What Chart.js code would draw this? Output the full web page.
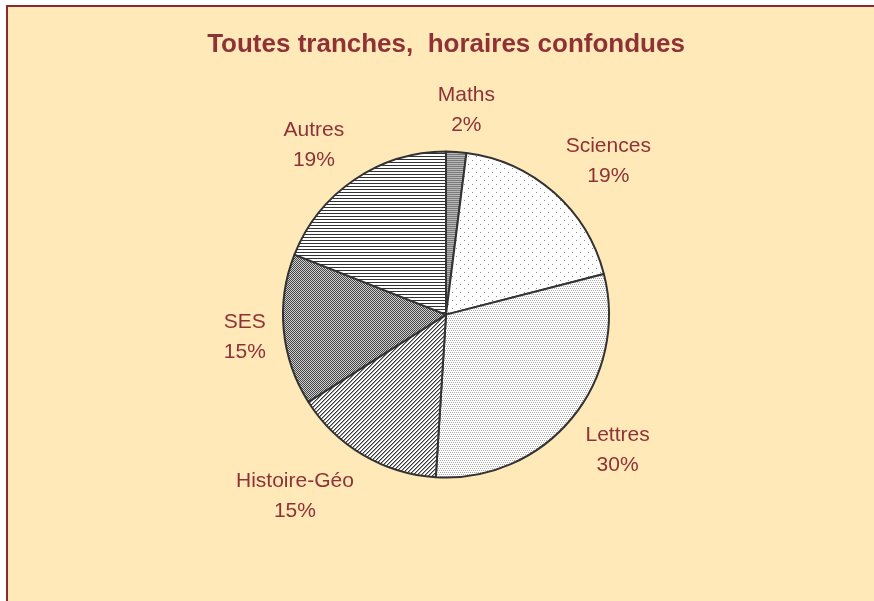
<!DOCTYPE html>
<html>
<head>
<meta charset="utf-8">
<script src="https://cdn.jsdelivr.net/npm/chart.js@4/dist/chart.umd.min.js"></script>
<style>
    body { margin: 0; background: #ffffff; width: 874px; height: 601px; overflow: hidden; position: relative; }
    .frame {
        position: absolute; left: 6px; top: 5px; right: 0; bottom: 0;
        background: #ffe9b9;
        border-top: 2px solid #8b2a2e;
        border-left: 2px solid #8b2a2e;
    }
    #pieChart { position: absolute; left: 0; top: 0; }
</style>
</head>
<body>
<div class="frame"></div>
<canvas id="pieChart" width="874" height="601"></canvas>
<script>
// Chart data
const categories = ['Maths', 'Sciences', 'Lettres', 'Histoire-Géo', 'SES', 'Autres'];
const shares = [2, 19, 30, 15, 15, 19];

const textColor = '#8e3236';
const fontFamily = "'Liberation Sans', Arial, sans-serif";

// Build a small tile and turn it into a fill pattern
function makePattern(size, drawTile) {
    const tile = document.createElement('canvas');
    tile.width = size;
    tile.height = size;
    const t = tile.getContext('2d');
    drawTile(t, size);
    return document.getElementById('pieChart').getContext('2d').createPattern(tile, 'repeat');
}

const patterns = [
    // Maths: grey horizontal stripes
    makePattern(2, (t) => {
        t.fillStyle = '#b8b8b8'; t.fillRect(0, 0, 2, 2);
        t.fillStyle = '#7a7a7a'; t.fillRect(0, 0, 2, 1);
    }),
    // Sciences: sparse dots
    makePattern(8, (t) => {
        t.fillStyle = '#ffffff'; t.fillRect(0, 0, 8, 8);
        t.fillStyle = '#8a8a8a';
        t.fillRect(0, 0, 1, 1);
        t.fillRect(4, 4, 1, 1);
    }),
    // Lettres: dense stipple
    makePattern(4, (t) => {
        t.fillStyle = '#ffffff'; t.fillRect(0, 0, 4, 4);
        t.fillStyle = '#a8a8a8';
        t.fillRect(0, 0, 1, 1);
        t.fillRect(2, 0, 1, 1);
        t.fillRect(1, 2, 1, 1);
        t.fillRect(3, 2, 1, 1);
    }),
    // Histoire-Geo: diagonal lines
    makePattern(4, (t) => {
        t.fillStyle = '#ffffff'; t.fillRect(0, 0, 4, 4);
        t.fillStyle = '#3a3a3a';
        for (let i = 0; i < 4; i++) {
            t.fillRect(3 - i, i, 1, 1);
        }
        t.fillStyle = '#9a9a9a';
        for (let i = 0; i < 4; i++) {
            t.fillRect((4 - i) % 4, i, 1, 1);
        }
    }),
    // SES: dark checker
    makePattern(2, (t) => {
        t.fillStyle = '#d0d0d0'; t.fillRect(0, 0, 2, 2);
        t.fillStyle = '#444444';
        t.fillRect(0, 0, 1, 1);
        t.fillRect(1, 1, 1, 1);
    }),
    // Autres: horizontal lines
    makePattern(3, (t) => {
        t.fillStyle = '#ffffff'; t.fillRect(0, 0, 3, 3);
        t.fillStyle = '#333333'; t.fillRect(0, 0, 3, 1);
    })
];

// Draw category name and percent outside each slice
const outsideLabels = {
    id: 'outsideLabels',
    afterDatasetsDraw(chart) {
        const ctx = chart.ctx;
        const meta = chart.getDatasetMeta(0);
        ctx.save();
        ctx.fillStyle = textColor;
        ctx.font = '21px ' + fontFamily;
        ctx.textAlign = 'center';
        ctx.textBaseline = 'middle';
        meta.data.forEach((arc, i) => {
            const p = arc.getProps(['x', 'y', 'startAngle', 'endAngle', 'outerRadius'], true);
            const mid = (p.startAngle + p.endAngle) / 2;
            const cx = Math.cos(mid);
            const sy = Math.sin(mid);
            const name = categories[i];
            const pct = shares[i] + '%';
            const w = Math.max(ctx.measureText(name).width, ctx.measureText(pct).width);
            const x = p.x + cx * (p.outerRadius + 18) + Math.sign(cx) * (w / 2) * Math.min(1, Math.abs(cx) * 5);
            const y = p.y + sy * (p.outerRadius + 45) + 3;
            ctx.fillText(name, x, y - 15);
            ctx.fillText(pct, x, y + 15);
        });
        ctx.restore();
    }
};

new Chart(document.getElementById('pieChart'), {
    type: 'pie',
    data: {
        labels: categories,
        datasets: [{
            data: shares,
            backgroundColor: patterns,
            borderColor: '#333333',
            borderWidth: 2,
            radius: 163
        }]
    },
    options: {
        responsive: false,
        animation: false,
        layout: {
            padding: { left: 18, right: 0, top: 0, bottom: 42 }
        },
        plugins: {
            legend: { display: false },
            tooltip: { enabled: false },
            title: {
                display: true,
                text: 'Toutes tranches,  horaires confondues',
                color: textColor,
                font: { family: fontFamily, size: 26, weight: 'bold' },
                padding: { top: 29, bottom: 10 }
            }
        }
    },
    plugins: [outsideLabels]
});
</script>
</body>
</html>
